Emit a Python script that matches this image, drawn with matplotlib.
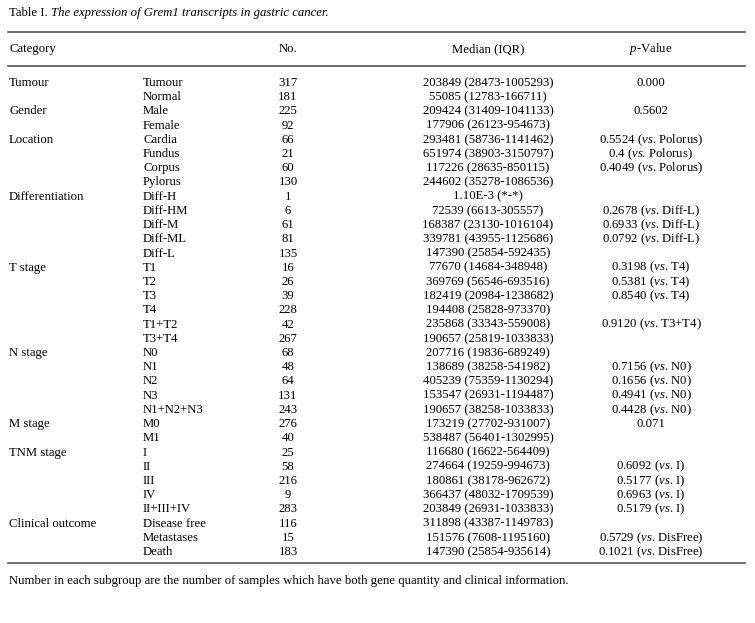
import matplotlib
matplotlib.use("Agg")
import matplotlib.pyplot as plt

plt.rcParams['font.family'] = ['Liberation Serif', 'DejaVu Serif']
plt.rcParams['mathtext.fontset'] = 'custom'
plt.rcParams['mathtext.rm'] = 'Liberation Serif'
plt.rcParams['mathtext.it'] = 'Liberation Serif:italic'

title_plain = 'Table I. '
title_italic = 'The expression of Grem1 transcripts in gastric cancer.'
headers = ['Category', 'No.', 'Median (IQR)', 'p-Value']
footnote = ('Number in each subgroup are the number of samples which have both '
            'gene quantity and clinical information.')

categories = ['Tumour', '', 'Gender', '', 'Location', '', '', '',
              'Differentiation', '', '', '', '',
              'T stage', '', '', '', '', '',
              'N stage', '', '', '', '',
              'M stage', '',
              'TNM stage', '', '', '', '',
              'Clinical outcome', '', '']
subgroups = ['Tumour', 'Normal', 'Male', 'Female',
             'Cardia', 'Fundus', 'Corpus', 'Pylorus',
             'Diff-H', 'Diff-HM', 'Diff-M', 'Diff-ML', 'Diff-L',
             'T1', 'T2', 'T3', 'T4', 'T1+T2', 'T3+T4',
             'N0', 'N1', 'N2', 'N3', 'N1+N2+N3',
             'M0', 'M1',
             'I', 'II', 'III', 'IV', 'II+III+IV',
             'Disease free', 'Metastases', 'Death']
counts = [317, 181, 225, 92, 66, 21, 60, 130, 1, 6, 61, 81, 135,
          16, 26, 39, 228, 42, 267, 68, 48, 64, 131, 243, 276, 40,
          25, 58, 216, 9, 283, 116, 15, 183]
medians = ['203849 (28473-1005293)', '55085 (12783-166711)',
           '209424 (31409-1041133)', '177906 (26123-954673)',
           '293481 (58736-1141462)', '651974 (38903-3150797)',
           '117226 (28635-850115)', '244602 (35278-1086536)',
           '1.10E-3 (*-*)', '72539 (6613-305557)',
           '168387 (23130-1016104)', '339781 (43955-1125686)',
           '147390 (25854-592435)',
           '77670 (14684-348948)', '369769 (56546-693516)',
           '182419 (20984-1238682)', '194408 (25828-973370)',
           '235868 (33343-559008)', '190657 (25819-1033833)',
           '207716 (19836-689249)', '138689 (38258-541982)',
           '405239 (75359-1130294)', '153547 (26931-1194487)',
           '190657 (38258-1033833)',
           '173219 (27702-931007)', '538487 (56401-1302995)',
           '116680 (16622-564409)', '274664 (19259-994673)',
           '180861 (38178-962672)', '366437 (48032-1709539)',
           '203849 (26931-1033833)',
           '311898 (43387-1149783)', '151576 (7608-1195160)',
           '147390 (25854-935614)']
# (p, reference group)
pvalues = [('0.000', ''), ('', ''), ('0.5602', ''), ('', ''),
           ('0.5524', 'Polorus'), ('0.4', 'Polorus'), ('0.4049', 'Polorus'), ('', ''),
           ('', ''), ('0.2678', 'Diff-L'), ('0.6933', 'Diff-L'), ('0.0792', 'Diff-L'), ('', ''),
           ('0.3198', 'T4'), ('0.5381', 'T4'), ('0.8540', 'T4'), ('', ''),
           ('0.9120', 'T3+T4'), ('', ''),
           ('', ''), ('0.7156', 'N0'), ('0.1656', 'N0'), ('0.4941', 'N0'), ('0.4428', 'N0'),
           ('0.071', ''), ('', ''),
           ('', ''), ('0.6092', 'I'), ('0.5177', 'I'), ('0.6963', 'I'), ('0.5179', 'I'),
           ('', ''), ('0.5729', 'DisFree'), ('0.1021', 'DisFree')]

W, H = 755, 623
fig = plt.figure(figsize=(W / 100, H / 100), dpi=100)
ax = fig.add_axes([0, 0, 1, 1])
ax.set_xlim(0, W)
ax.set_ylim(H, 0)
ax.axis('off')

fs = 9.2
x_cat, x_sub, x_no, x_med, x_p = 9, 143, 288, 488, 651

t = ax.text(x_cat, 13, title_plain, fontsize=fs, va='center', ha='left')
fig.canvas.draw()
bb = t.get_window_extent().transformed(ax.transData.inverted())
ax.text(bb.x1, 13, title_italic, fontsize=fs, va='center', ha='left', style='italic')

for y in (32, 66, 563):
    ax.plot([8, 745], [y, y], color='#555555', lw=1.2)

y_head = 49
ax.text(x_cat, y_head, headers[0], fontsize=fs, va='center', ha='left')
ax.text(x_no, y_head, headers[1], fontsize=fs, va='center', ha='center')
ax.text(x_med, y_head, headers[2], fontsize=fs, va='center', ha='center')
ax.text(x_p, y_head, r'$\it{p}$-Value', fontsize=fs, va='center', ha='center')

y0, step = 83, (552 - 83) / (len(subgroups) - 1)
for i in range(len(subgroups)):
    y = y0 + i * step
    ax.text(x_cat, y, categories[i], fontsize=fs, va='center', ha='left')
    ax.text(x_sub, y, subgroups[i], fontsize=fs, va='center', ha='left')
    ax.text(x_no, y, str(counts[i]), fontsize=fs, va='center', ha='center')
    ax.text(x_med, y, medians[i], fontsize=fs, va='center', ha='center')
    p, ref = pvalues[i]
    if ref:
        ax.text(x_p, y, p + r' ($\it{vs}$. ' + ref + ')', fontsize=fs,
                va='center', ha='center')
    elif p:
        ax.text(x_p, y, p, fontsize=fs, va='center', ha='center')

ax.text(x_cat, 581, footnote, fontsize=fs, va='center', ha='left')

fig.savefig('out.png', dpi=100)
